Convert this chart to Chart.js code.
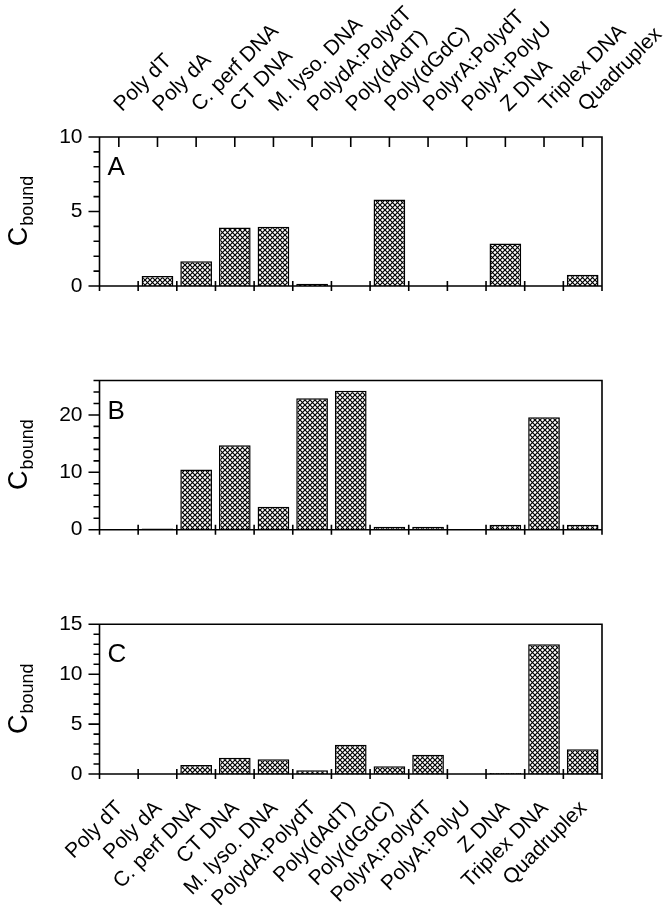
<!DOCTYPE html>
<html>
<head>
<meta charset="utf-8">
<title>Cbound</title>
<script src="https://cdn.jsdelivr.net/npm/chart.js"></script>
<style>
  body { margin: 0; background: #fff; }
  #wrap { position: relative; width: 669px; height: 911px; }
  canvas { position: absolute; left: 0; }
</style>
</head>
<body>
<div id="wrap">
  <canvas id="chartA" width="669" height="300" style="top:0px"></canvas>
  <canvas id="chartB" width="669" height="250" style="top:300px"></canvas>
  <canvas id="chartC" width="669" height="361" style="top:550px"></canvas>
</div>
<script>
// samples along the x axis
var samples = ['Poly dT', 'Poly dA', 'C. perf DNA', 'CT DNA', 'M. lyso. DNA', 'PolydA:PolydT',
  'Poly(dAdT)', 'Poly(dGdC)', 'PolyrA:PolydT', 'PolyA:PolyU', 'Z DNA', 'Triplex DNA', 'Quadruplex'];

// C_bound for each panel (null = no bar)
var valuesA = [null, 0.67, 1.66, 3.92, 3.97, 0.15, null, 5.8, null, null, 2.85, null, 0.76];
var valuesB = [null, 0.2, 10.5, 14.7, 4.0, 22.9, 24.2, 0.53, 0.53, null, 0.85, 19.6, 0.85];
var valuesC = [null, null, 0.9, 1.63, 1.47, 0.37, 2.94, 0.77, 1.93, null, 0.1, 13.0, 2.47];

// y tick labels
var yTicksA = [0, 5, 10];
var yTicksB = [0, 10, 20];
var yTicksC = [0, 5, 10, 15];

var FONT = '"Liberation Sans", Arial, sans-serif';

function makeHatch() {
  var s = 5;
  var c = document.createElement('canvas');
  c.width = s; c.height = s;
  var g = c.getContext('2d');
  g.fillStyle = '#fff';
  g.fillRect(0, 0, s, s);
  g.strokeStyle = '#000';
  g.lineWidth = 1.2;
  g.beginPath();
  g.moveTo(-1, -1); g.lineTo(s + 1, s + 1);
  g.moveTo(s + 1, -1); g.lineTo(-1, s + 1);
  g.stroke();
  return g.createPattern(c, 'repeat');
}
var hatch = makeHatch();

// box, tick marks, panel letter and y title
var frame = {
  id: 'frame',
  afterDraw: function (chart, args, o) {
    var ctx = chart.ctx, a = chart.chartArea;
    var x = chart.scales.x, y = chart.scales.y;
    ctx.save();
    ctx.strokeStyle = '#000';
    ctx.lineWidth = 1.6;
    ctx.beginPath();
    ctx.rect(a.left, a.top, a.right - a.left, a.bottom - a.top);
    for (var v = y.min; v <= y.max + 1e-9; v += o.minor) {
      var py = y.getPixelForValue(v);
      var len = Math.abs(v % o.major) < 1e-9 ? 11 : 6;
      ctx.moveTo(a.left - len, py);
      ctx.lineTo(a.left, py);
    }
    for (var i = 0; i <= samples.length; i++) {
      var px = x.getPixelForValue(i - 0.5);
      ctx.moveTo(px, a.bottom - 5);
      ctx.lineTo(px, a.bottom + 5);
    }
    if (o.topTicks) {
      for (var j = 0; j < samples.length; j++) {
        var tx = x.getPixelForValue(j);
        ctx.moveTo(tx, a.top);
        ctx.lineTo(tx, a.top + 10);
      }
    }
    ctx.stroke();

    ctx.fillStyle = '#000';
    ctx.textAlign = 'left';
    ctx.textBaseline = 'alphabetic';
    ctx.font = '26px ' + FONT;
    ctx.fillText(o.letter, a.left + 8, a.top + 38);

    // C_bound, rotated
    var cy = (a.top + a.bottom) / 2;
    ctx.font = '27px ' + FONT;
    var wC = ctx.measureText('C').width;
    ctx.font = '18px ' + FONT;
    var wS = ctx.measureText('bound').width;
    ctx.translate(27, cy);
    ctx.rotate(-Math.PI / 2);
    var x0 = -(wC + wS) / 2;
    ctx.font = '27px ' + FONT;
    ctx.fillText('C', x0, 0);
    ctx.font = '18px ' + FONT;
    ctx.fillText('bound', x0 + wC + 1, 6);
    ctx.restore();
  }
};

function noPad(s) {
  s.paddingTop = 0; s.paddingBottom = 0; s.paddingLeft = 0; s.paddingRight = 0;
}

function catTicks(show, shift, pad) {
  return {
    display: show,
    autoSkip: false,
    maxRotation: 45,
    minRotation: 45,
    padding: pad,
    labelOffset: shift,
    color: '#000',
    font: { family: FONT, size: 21 }
  };
}

function panel(id, values, yMax, yTicks, opt) {
  var scales = {
    x: {
      type: 'category',
      labels: samples,
      offset: true,
      grid: { display: false, drawTicks: false },
      border: { display: false },
      ticks: catTicks(opt.bottomLabels, 1, 22),
      afterFit: function (s) { s.height = opt.bottomSpace; noPad(s); }
    },
    y: {
      min: 0,
      max: yMax,
      grid: { display: false, drawTicks: false },
      border: { display: false },
      ticks: { color: '#000', padding: 17, font: { family: FONT, size: 21 } },
      afterBuildTicks: function (s) { s.ticks = yTicks.map(function (v) { return { value: v }; }); },
      afterFit: function (s) { s.width = 99.5; noPad(s); }
    }
  };
  if (opt.topLabels) {
    scales.xTop = {
      type: 'category',
      position: 'top',
      labels: samples,
      offset: true,
      grid: { display: false, drawTicks: false },
      border: { display: false },
      ticks: catTicks(true, 17, 20),
      afterFit: function (s) { s.height = opt.topSpace; noPad(s); }
    };
  }
  return new Chart(document.getElementById(id), {
    type: 'bar',
    data: {
      labels: samples,
      datasets: [{
        data: values,
        backgroundColor: hatch,
        borderColor: '#000',
        borderWidth: 1.5,
        categoryPercentage: 1,
        barPercentage: 0.82
      }]
    },
    options: {
      responsive: false,
      animation: false,
      layout: { padding: { left: 0, right: 67, top: opt.padTop, bottom: 0 } },
      plugins: {
        legend: { display: false },
        tooltip: { enabled: false },
        frame: { letter: opt.letter, major: opt.major, minor: opt.minor, topTicks: opt.topLabels }
      },
      scales: scales
    },
    plugins: [frame]
  });
}

panel('chartA', valuesA, 10, yTicksA, {
  letter: 'A', major: 5, minor: 1, topLabels: true, topSpace: 137, padTop: 0,
  bottomLabels: false, bottomSpace: 14
});
panel('chartB', valuesB, 26, yTicksB, {
  letter: 'B', major: 10, minor: 2, topLabels: false, padTop: 80.5,
  bottomLabels: false, bottomSpace: 20.3
});
panel('chartC', valuesC, 15, yTicksC, {
  letter: 'C', major: 5, minor: 1, topLabels: false, padTop: 74.3,
  bottomLabels: true, bottomSpace: 137
});
</script>
</body>
</html>
